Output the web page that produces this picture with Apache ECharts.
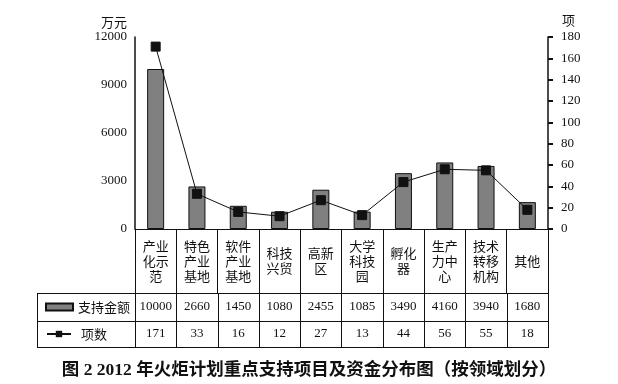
<!DOCTYPE html>
<html><head><meta charset="utf-8">
<script src="https://cdn.jsdelivr.net/npm/echarts@6/dist/echarts.min.js"></script>
<style>html,body{margin:0;padding:0;background:#fff}#c{width:618px;height:384px}</style>
</head><body><div id="c"></div>
<script>
const categories = ['产业化示范','特色产业基地','软件产业基地','科技兴贸','高新区','大学科技园','孵化器','生产力中心','技术转移机构','其他'];
const funds = [10000, 2660, 1450, 1080, 2455, 1085, 3490, 4160, 3940, 1680];
const counts = [171, 33, 16, 12, 27, 13, 44, 56, 55, 18];
const leftTicks = {min: 0, max: 12000, interval: 3000};
const rightTicks = {min: 0, max: 180, interval: 20};
const titleText = '图 2 2012 年火炬计划重点支持项目及资金分布图（按领域划分）';

const serif = '"Liberation Serif", "Noto Sans CJK SC", serif';
const cjk = '"Noto Sans CJK SC", sans-serif';
const G = {left: 135, right: 548, top: 37, bottom: 229};
const rowY = [293, 321, 347];
const tableLeft = 37;

const chart = echarts.init(document.getElementById('c'), null, {renderer: 'canvas'});
const black = '#111';
const baseX = {
  type: 'category', data: categories, gridIndex: 0, position: 'bottom',
  boundaryGap: true,
  axisLine: {show: false, onZero: false},
  axisTick: {show: false},
  splitLine: {show: false}
};
chart.setOption({
  animation: false,
  backgroundColor: '#fff',
  title: {
    text: titleText, left: 304, textAlign: 'center', top: 357,
    textStyle: {fontFamily: serif, fontWeight: 'bold', fontSize: 17.5, color: '#111'}
  },
  grid: {left: G.left, right: 618 - G.right, top: G.top, bottom: 384 - G.bottom, containLabel: false},
  legend: [
    {data: [{name: '支持金额', icon: 'rect'}], left: 45, top: 300, padding: 0, itemWidth: 27, itemHeight: 7, itemGap: 6,
     textStyle: {fontFamily: cjk, fontSize: 13, color: '#111', lineHeight: 14}},
    {data: ['项数'], left: 46, top: 327, padding: 0, itemWidth: 24, itemHeight: 8, itemGap: 9,
     textStyle: {fontFamily: cjk, fontSize: 13, color: '#111', lineHeight: 14, padding: [0, 0, 0, 5]}}
  ],
  xAxis: [
    Object.assign({}, baseX, {
      offset: 0,
      axisLine: {show: true, onZero: false, lineStyle: {color: black, width: 1}},
      axisTick: {show: true, interval: 0, length: rowY[0] - G.bottom, lineStyle: {color: black, width: 1}},
      axisLabel: {interval: 0, margin: 32, verticalAlign: 'middle', fontFamily: cjk, fontSize: 13, lineHeight: 15, color: '#111',
        formatter: s => s.match(/.{1,2}/g).join('\n')}
    }),
    Object.assign({}, baseX, {
      offset: rowY[0] - G.bottom,
      axisLabel: {interval: 0, margin: 14, verticalAlign: 'middle', fontFamily: serif, fontSize: 13, color: '#111',
        formatter: (s, i) => String(funds[i])}
    }),
    Object.assign({}, baseX, {
      offset: rowY[1] - G.bottom,
      axisLabel: {interval: 0, margin: 13, verticalAlign: 'middle', fontFamily: serif, fontSize: 13, color: '#111',
        formatter: (s, i) => String(counts[i])}
    })
  ],
  yAxis: [
    {type: 'value', min: leftTicks.min, max: leftTicks.max, interval: leftTicks.interval, position: 'left',
     name: '万元', nameLocation: 'end', nameGap: 8,
     nameTextStyle: {fontFamily: cjk, fontSize: 13, color: '#111', align: 'right', padding: [0, 8, 0, 0]},
     axisLine: {show: true, onZero: false, lineStyle: {color: black, width: 1.5}},
     axisTick: {show: false}, splitLine: {show: false},
     axisLabel: {margin: 8, fontFamily: serif, fontSize: 13, color: '#111', formatter: v => String(v)}},
    {type: 'value', min: rightTicks.min, max: rightTicks.max, interval: rightTicks.interval, position: 'right',
     name: '项', nameLocation: 'end', nameGap: 10,
     nameTextStyle: {fontFamily: cjk, fontSize: 13, color: '#111', align: 'left', padding: [0, 0, 0, 14]},
     axisLine: {show: true, onZero: false, lineStyle: {color: black, width: 1.5}},
     axisTick: {show: true, inside: false, length: 5, lineStyle: {color: black, width: 2}},
     splitLine: {show: false},
     axisLabel: {margin: 13, fontFamily: serif, fontSize: 13, color: '#111', formatter: v => String(v)}}
  ],
  series: [
    {name: '支持金额', type: 'bar', xAxisIndex: 0, yAxisIndex: 0, data: funds, barWidth: 17,
     itemStyle: {color: '#808080', borderColor: '#111', borderWidth: 1}},
    {name: '项数', type: 'line', xAxisIndex: 0, yAxisIndex: 1, data: counts,
     symbol: 'rect', symbolSize: 9, z: 5,
     lineStyle: {color: '#111', width: 1}, itemStyle: {color: '#111', borderColor: '#111'}}
  ]
});

// table grid lines, column boundaries taken from the category axis
const c0 = chart.convertToPixel({xAxisIndex: 0}, 0);
const c1 = chart.convertToPixel({xAxisIndex: 0}, 1);
const band = c1 - c0;
const gfx = [];
const ln = (x1, y1, x2, y2) => gfx.push({type: 'line', silent: true, z: 10,
  shape: {x1, y1, x2, y2}, style: {stroke: black, lineWidth: 1}});
rowY.forEach(y => ln(tableLeft, y + 0.5, G.right, y + 0.5));
ln(tableLeft + 0.5, rowY[0], tableLeft + 0.5, rowY[2] + 1);
for (let i = 0; i <= categories.length; i++) {
  const x = Math.round(c0 - band / 2 + i * band) + 0.5;
  ln(x, rowY[0], x, rowY[2] + 1);
}
chart.setOption({graphic: gfx});
</script></body></html>
